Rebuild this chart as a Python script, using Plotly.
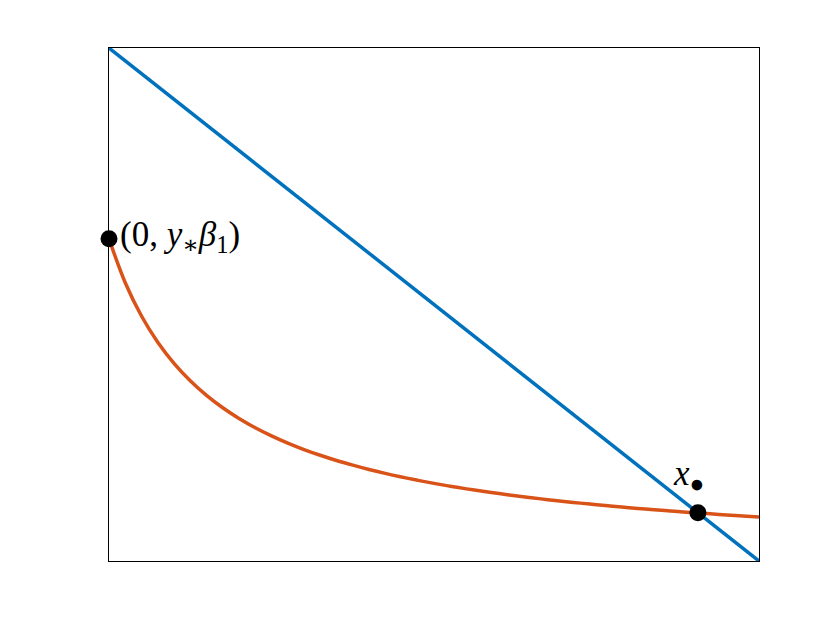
import plotly.graph_objects as go

# blue line: straight segment from top-left to bottom-right
line_x = [0.0, 1.0]
line_y = [1.0, 0.0]

# orange curve, every 0.025
curve_x = [i / 40 for i in range(41)]
curve_y = [0.628, 0.5425, 0.4776, 0.4265, 0.3853, 0.3513, 0.3229, 0.2987, 0.2779, 0.2598,
           0.2439, 0.2298, 0.2173, 0.2061, 0.1959, 0.1868, 0.1784, 0.1708, 0.1638, 0.1573,
           0.1513, 0.1458, 0.1406, 0.1359, 0.1314, 0.1272, 0.1233, 0.1196, 0.1161, 0.1128,
           0.1097, 0.1068, 0.1040, 0.1013, 0.0988, 0.0964, 0.0942, 0.0920, 0.0899, 0.0879,
           0.0860]

# marked points
point_x = [0.0, 0.906]
point_y = [0.628, 0.094]

serif = "Liberation Serif, DejaVu Serif, serif"

fig = go.Figure()
fig.add_trace(go.Scatter(x=line_x, y=line_y, mode="lines",
                         line=dict(color="#0072BD", width=3.5)))
fig.add_trace(go.Scatter(x=curve_x, y=curve_y, mode="lines",
                         line=dict(color="#D95319", width=3.5, shape="spline", smoothing=1.0)))
fig.add_trace(go.Scatter(x=point_x, y=point_y, mode="markers",
                         marker=dict(color="black", size=17), cliponaxis=False))

fig.add_annotation(x=0.0, y=0.628, xref="x", yref="y", showarrow=False,
                   text="(0, <i>y</i><sub>∗</sub><i>β</i><sub>1</sub>)",
                   xanchor="left", yanchor="middle", xshift=9, yshift=2,
                   font=dict(family=serif, size=35, color="black"))
fig.add_annotation(x=0.891, y=0.166, xref="x", yref="y", showarrow=False,
                   text="<i>x</i><sub>●</sub>",
                   xanchor="center", yanchor="middle",
                   font=dict(family=serif, size=35, color="black"))

axis = dict(range=[0, 1], showgrid=False, zeroline=False, showticklabels=False,
            ticks="", showline=True, linecolor="black", linewidth=1, mirror=True)

fig.update_layout(
    width=840, height=630,
    margin=dict(l=101, r=89, t=40, b=77),
    plot_bgcolor="white", paper_bgcolor="white",
    showlegend=False,
    xaxis=axis, yaxis=axis,
)

fig.write_html("out.html")
